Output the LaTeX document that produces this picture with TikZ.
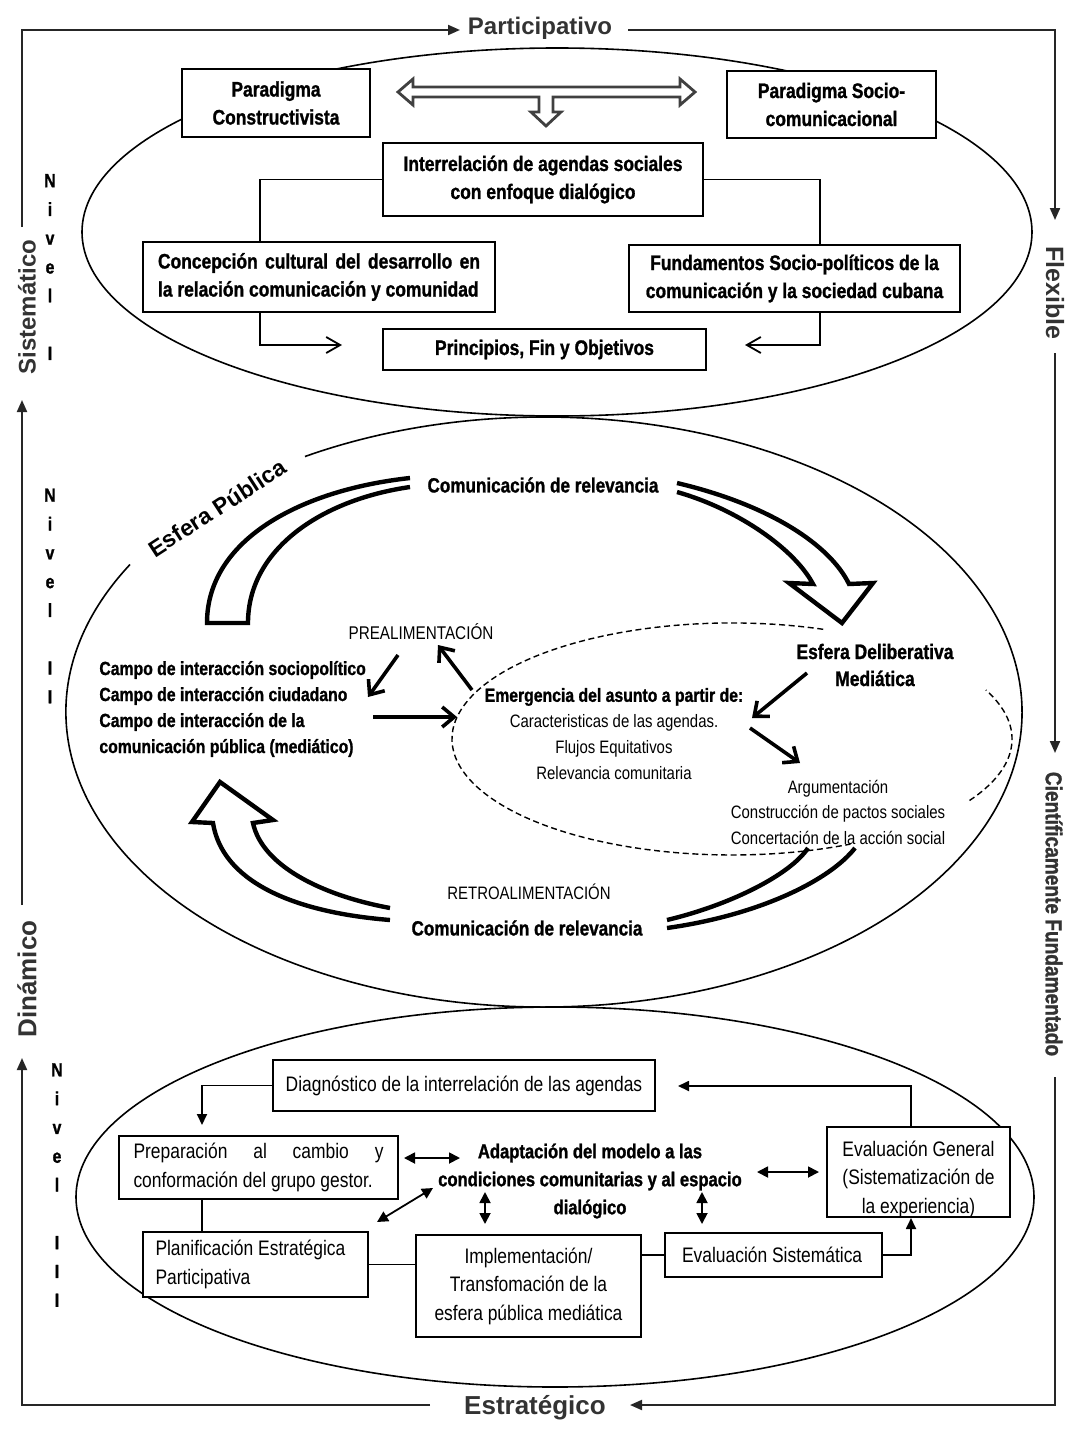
\documentclass[tikz,border=0pt]{standalone}
\usepackage{fontspec}
\setmainfont{Liberation Sans}[FakeStretch=0.83,BoldFeatures={FakeBold=1.2}]
\newfontfamily\widefont{Liberation Sans}
\usetikzlibrary{arrows.meta,calc}
\begin{document}
\begin{tikzpicture}[x=0.5pt,y=-0.5pt,
  every node/.style={inner sep=0pt},
  box/.style={draw,line width=1pt,fill=white,align=center},
  fb/.style={font=\fontsize{10.5}{14}\selectfont\bfseries},
  fr/.style={font=\fontsize{10.5}{14.25}\selectfont},
  lbl/.style={font=\widefont\fontsize{12}{14}\selectfont\bfseries,text=black!80},
  nivel/.style={font=\fontsize{9.5}{14.4}\selectfont\bfseries,align=center},
  ell/.style={line width=0.8pt},
  dsh/.style={line width=0.7pt,dash pattern=on 3pt off 1.8pt},
  conn/.style={line width=0.9pt},
  frame/.style={line width=1pt,black!85,-{Triangle[length=6pt,width=5pt]}},
  openarr/.style={-{Straight Barb[length=7pt,width=8pt]}},
  tri/.style={-{Triangle[length=5.5pt,width=5pt]}},
  dbl/.style={line width=0.9pt,{Triangle[length=5.5pt,width=5.5pt]}-{Triangle[length=5.5pt,width=5.5pt]}},
  big/.style={line width=2.2pt,line join=miter},
  sarr/.style={line width=1.8pt,-{Straight Barb[length=6pt,width=10pt]}},
]
\useasboundingbox (0,0) rectangle (1078,1445);

% ---------- ellipses ----------
\draw[ell] (557,232) ellipse [x radius=237.5pt, y radius=92pt];
\draw[ell] (130,564.5) arc [start angle=150, end angle=480, x radius=239pt, y radius=147.5pt];
\draw[ell] (555,1197) ellipse [x radius=239.5pt, y radius=95pt];
\draw[dsh] (823.2,629.3) arc [start angle=71, end angle=295, x radius=140pt, y radius=58pt];
\draw[dsh] (969.5,800.5) arc [start angle=-32, end angle=25, x radius=140pt, y radius=58pt];

% ---------- frame labels ----------
\node[lbl] (par) at (540,28) {Participativo};
\node[lbl,rotate=90] (sis) at (27,307) {Sistemático};
\node[lbl,rotate=-90,font=\widefont\fontsize{12.5}{14}\selectfont\bfseries] (fle) at (1055,293) {Flexible};
\node[lbl,rotate=-90,font=\fontsize{11.5}{14}\selectfont\bfseries] (cie) at (1054,914) {Científicamente Fundamentado};
\node[lbl,font=\widefont\fontsize{13}{14}\selectfont\bfseries] (est) at (535,1408) {Estratégico};
\node[lbl,rotate=90,font=\widefont\fontsize{13}{14}\selectfont\bfseries] (din) at (27,979) {Dinámico};

% ---------- frame ----------
\coordinate (sisTop) at (22,227);
\coordinate (c1) at (22,30);
\coordinate (parIn) at (460,30);
\coordinate (parOut) at (628,30);
\coordinate (c2) at (1055,30);
\coordinate (fleIn) at (1055,220);
\coordinate (fleOut) at (1055,353);
\coordinate (cieIn) at (1055,753);
\coordinate (cieOut) at (1055,1077);
\coordinate (c3) at (1055,1405);
\coordinate (estIn) at (630,1405);
\coordinate (estOut) at (430,1405);
\coordinate (c4) at (22,1405);
\coordinate (dinIn) at (22,1058);
\coordinate (dinOut) at (22,905);
\coordinate (sisIn) at (22,400);
\draw[frame] (sisTop) -- (c1) -- (parIn);
\draw[frame] (parOut) -- (c2) -- (fleIn);
\draw[frame] (fleOut) -- (cieIn);
\draw[frame] (cieOut) -- (c3) -- (estIn);
\draw[frame] (estOut) -- (c4) -- (dinIn);
\draw[frame] (dinOut) -- (sisIn);

% ---------- Nivel labels ----------
\node[nivel] (n1) at (50,267) {N\\i\\v\\e\\l\\[14.4pt]I};
\node[nivel] (n2) at (50,596) {N\\i\\v\\e\\l\\[14.4pt]I\\I};
\node[nivel] (n3) at (57,1185) {N\\i\\v\\e\\l\\[14.4pt]I\\I\\I};

% ---------- level I ----------
\draw[line width=1.4pt,black!75,fill=white,line join=miter]
  (398,92) -- (413,79) -- (413,87) -- (680,87) -- (680,79) -- (695,92) -- (680,105) -- (680,97)
  -- (553,97) -- (553,112) -- (561,112) -- (546,126) -- (531,112) -- (539,112) -- (539,97)
  -- (413,97) -- (413,105) -- cycle;
\node[box,fb,minimum width=94pt,minimum height=34pt] (pc) at (276,103) {Paradigma\\Constructivista};
\node[box,fb,minimum width=104.5pt,minimum height=33.5pt] (ps) at (831.5,104.5) {Paradigma Socio-\\comunicacional};
\node[box,fb,minimum width=160pt,minimum height=36.5pt] (ir) at (543,179.5) {Interrelación de agendas sociales\\con enfoque dialógico};
\node[box,fb,minimum width=176pt,minimum height=35pt,text width=161pt,align=justify] (cc) at (319,277) {Concepción cultural del desarrollo en\linebreak la relación comunicación y comunidad};
\node[box,fb,minimum width=165.5pt,minimum height=33.5pt] (fs) at (794.5,278.5) {Fundamentos Socio-políticos de la\\comunicación y la sociedad cubana};
\node[box,fb,minimum width=161.5pt,minimum height=20.5pt] (pf) at (544.5,349.5) {Principios, Fin y Objetivos};
\coordinate (pfL) at (342,345);
\coordinate (pfR) at (745,345);
\draw[conn] (ir.west) -| ($(cc.north)+(-59,0)$);
\draw[conn] (ir.east) -| ($(fs.north)+(25.5,0)$);
\draw[conn,openarr] ($(cc.south)+(-59,0)$) |- (pfL);
\draw[conn,openarr] ($(fs.south)+(25.5,0)$) |- (pfR);

% ---------- level II ----------
\node[font=\widefont\fontsize{11.5}{13}\selectfont\bfseries,rotate=33] (epub) at (217,508) {Esfera Pública};
\node[font=\fontsize{10.3}{12}\selectfont\bfseries] (com1) at (543,485) {Comunicación de relevancia};
\node[font=\fontsize{10.3}{12}\selectfont\bfseries] (com2) at (527,928) {Comunicación de relevancia};
\node[font=\fontsize{9}{12}\selectfont] (retro) at (529,892) {RETROALIMENTACIÓN};
\node[font=\fontsize{9.2}{12}\selectfont] (pre) at (421,632) {PREALIMENTACIÓN};
\node[font=\fontsize{9.5}{13}\selectfont\bfseries,align=left,anchor=west] (campo) at (99,709) {Campo de interacción sociopolítico\\Campo de interacción ciudadano\\Campo de interacción de la\\comunicación pública (mediático)};
\node[font=\fontsize{9}{13}\selectfont,align=center] (emer) at (614,734) {{\bfseries\fontsize{9.5}{13}\selectfont Emergencia del asunto a partir de:}\\Caracteristicas de las agendas.\\Flujos Equitativos\\Relevancia comunitaria};
\node[font=\fontsize{10.5}{13.5}\selectfont\bfseries,align=center] (esf) at (875,665) {Esfera Deliberativa\\Mediática};
\node[font=\fontsize{9}{12.75}\selectfont,align=center] (arg) at (838,812) {Argumentación\\Construcción de pactos sociales\\Concertación de la acción social};

% big curved arrows
\draw[big] (410,478) .. controls (300,490) and (207,540) .. (207,623) -- (248,623)
  .. controls (248,550) and (320,500) .. (410,487);
\draw[big] (677,483) .. controls (770,505) and (830,545) .. (849,584) -- (873,583) -- (842,623)
  -- (789,583) -- (813,584) .. controls (795,550) and (740,510) .. (677,492);
\draw[big] (390,920) .. controls (290,912) and (222,880) .. (213,823) -- (192,822) -- (220,782)
  -- (273,820) -- (253,823) .. controls (262,865) and (320,895) .. (390,908);
\draw[big] (667,920) .. controls (730,905) and (790,875) .. (808,848);
\draw[big] (667,928) .. controls (760,915) and (830,880) .. (855,848);

% small thick arrows
\coordinate (a1s) at (398,655); \coordinate (a1e) at (368,697);
\coordinate (a2s) at (472,690); \coordinate (a2e) at (438,645);
\coordinate (a3s) at (373,717); \coordinate (a3e) at (457,717);
\coordinate (a4s) at (807,673); \coordinate (a4e) at (752,718);
\coordinate (a5s) at (750,728); \coordinate (a5e) at (800,763);
\draw[sarr] (a1s) -- (a1e);
\draw[sarr] (a2s) -- (a2e);
\draw[sarr] (a3s) -- (a3e);
\draw[sarr] (a4s) -- (a4e);
\draw[sarr] (a5s) -- (a5e);

% ---------- level III ----------
\node[box,fr,minimum width=191pt,minimum height=25.5pt] (diag) at (464,1085.5) {Diagnóstico de la interrelación de las agendas};
\node[box,fr,minimum width=139.5pt,minimum height=31.5pt,text width=125pt,align=justify] (prep) at (258.5,1167.5) {Preparación al cambio y\linebreak conformación del grupo gestor.};
\node[box,fr,minimum width=112.5pt,minimum height=32.5pt,text width=100pt,align=flush left] (plan) at (255.5,1264.5) {Planificación Estratégica\\Participativa};
\node[box,fr,minimum width=112.5pt,minimum height=51pt] (impl) at (528.5,1286) {Implementación/\\Transfomación de la\\esfera pública mediática};
\node[box,fr,minimum width=108.5pt,minimum height=22pt,text width=91.5pt,align=flush left] (es) at (773.5,1255) {Evaluación Sistemática};
\node[box,minimum width=91.5pt,minimum height=45pt] (eg) at (918.5,1172) {};
\node[fr,align=center] (egt) at (918.5,1179) {Evaluación General\\(Sistematización de\\la experiencia)};
\node[font=\fontsize{10}{14}\selectfont\bfseries,align=center] (adap) at (590,1181) {Adaptación del modelo a las\\condiciones comunitarias y al espacio\\dialógico};

\coordinate (diagR) at (678,1086);
\coordinate (prepT) at (202,1125);
\draw[conn,tri] ($(eg.north)+(-7.5,0)$) |- (diagR);
\draw[conn,tri] (diag.west) -| (prepT);
\draw[conn] ($(prep.south)+(-56.5,0)$) -- ($(plan.north)+(-53.5,0)$);
\draw[conn] (plan.east) -- (plan.east -| impl.west);
\draw[conn] (es.west) -- (es.west -| impl.east);
\draw[conn,tri] (es.east) -| ($(eg.south)+(-7.5,0)$);

\coordinate (d1a) at (404,1158); \coordinate (d1b) at (460,1158);
\coordinate (d2a) at (377,1222); \coordinate (d2b) at (433,1188);
\coordinate (d3a) at (485,1192); \coordinate (d3b) at (485,1224);
\coordinate (d4a) at (702,1192); \coordinate (d4b) at (702,1224);
\coordinate (d5a) at (757,1172); \coordinate (d5b) at (819,1172);
\draw[dbl] (d1a) -- (d1b);
\draw[dbl] (d2a) -- (d2b);
\draw[dbl] (d3a) -- (d3b);
\draw[dbl] (d4a) -- (d4b);
\draw[dbl] (d5a) -- (d5b);
\end{tikzpicture}
\end{document}
